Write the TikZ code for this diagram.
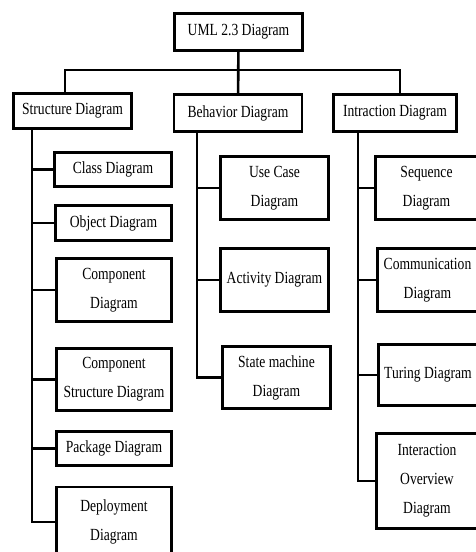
\documentclass[tikz,border=0pt]{standalone}
\usepackage{fontspec}
\setmainfont{Liberation Serif}[FakeStretch=0.8]
\usepackage{amsmath}

\begin{document}
\begin{tikzpicture}[x=1pt, y=-1pt, line width=2.6pt,
		box/.style={draw, rectangle, inner sep=0pt, align=center, font={\fontsize{17}{29}\selectfont}}]
				\clip (0, 0) rectangle (476, 552);
				% top and first level
				\node[box, minimum width=128, minimum height=37] (UML)at(238.5, 32) {UML 2.3 Diagram};
				\node[box, minimum width=118, minimum height=35] (SD)at(72.5, 111) {Structure Diagram};
				\node[box, minimum width=128, minimum height=37] (BD)at(238, 113) {Behavior Diagram};
				\node[box, minimum width=123, minimum height=37] (ID)at(395, 113) {Intraction Diagram};
				% structure diagrams
				\node[box, minimum width=117, minimum height=34] (CD)at(113, 169.5) {Class Diagram};
				\node[box, minimum width=116, minimum height=35] (OD)at(113.5, 223) {Object Diagram};
				\node[box, minimum width=115, minimum height=63] (CoD)at(114, 290) {Component\\Diagram};
				\node[box, minimum width=115, minimum height=62] (CSD)at(114, 379.5) {Component\\Structure Diagram};
				\node[box, minimum width=115, minimum height=34] (PD)at(114, 448.5) {Package Diagram};
				\node[box, minimum width=115, minimum height=70] (DD)at(114, 522) {Deployment\\Diagram};
				% behavior diagrams
				\node[box, minimum width=108, minimum height=63] (UCD)at(274.5, 188) {Use Case\\Diagram};
				\node[box, minimum width=108, minimum height=63] (AD)at(274.5, 280) {Activity Diagram};
				\node[box, minimum width=108, minimum height=62] (SMD)at(276.5, 377.5) {State machine\\Diagram};
				% interaction diagrams
				\node[box, minimum width=102.5, minimum height=63] (SqD)at(426.5, 188) {Sequence\\Diagram};
				\node[box, minimum width=100.5, minimum height=63] (CmD)at(427.5, 280) {Communication\\Diagram};
				\node[box, minimum width=99.5, minimum height=61] (TD)at(428, 375) {Turing Diagram};
				\node[box, minimum width=101.5, minimum height=95] (IOD)at(427, 481) {Interaction\\Overview\\Diagram};
				% bus and spines
				\coordinate (busL)at(65, 70);
				\coordinate (busR)at(400, 70);
				\coordinate (spS)at(32, 0);
				\coordinate (spB)at(197, 0);
				\coordinate (spI)at(358, 0);
				\draw (UML) -- (BD);
				\draw (SD.north -| busL) |- (busR) -- (ID.north -| busR);
				\draw (SD.south -| spS) |- (DD.west);
				\draw (spS |- CD.west) -- (CD.west);
				\draw (spS |- OD.west) -- (OD.west);
				\draw (spS |- CoD.west) -- (CoD.west);
				\draw (spS |- CSD.west) -- (CSD.west);
				\draw (spS |- PD.west) -- (PD.west);
				\draw (BD.south -| spB) |- (SMD.west);
				\draw (spB |- UCD.west) -- (UCD.west);
				\draw (spB |- AD.west) -- (AD.west);
				\draw (ID.south -| spI) |- (IOD.west);
				\draw (spI |- SqD.west) -- (SqD.west);
				\draw (spI |- CmD.west) -- (CmD.west);
				\draw (spI |- TD.west) -- (TD.west);
			\end{tikzpicture}
\end{document}
